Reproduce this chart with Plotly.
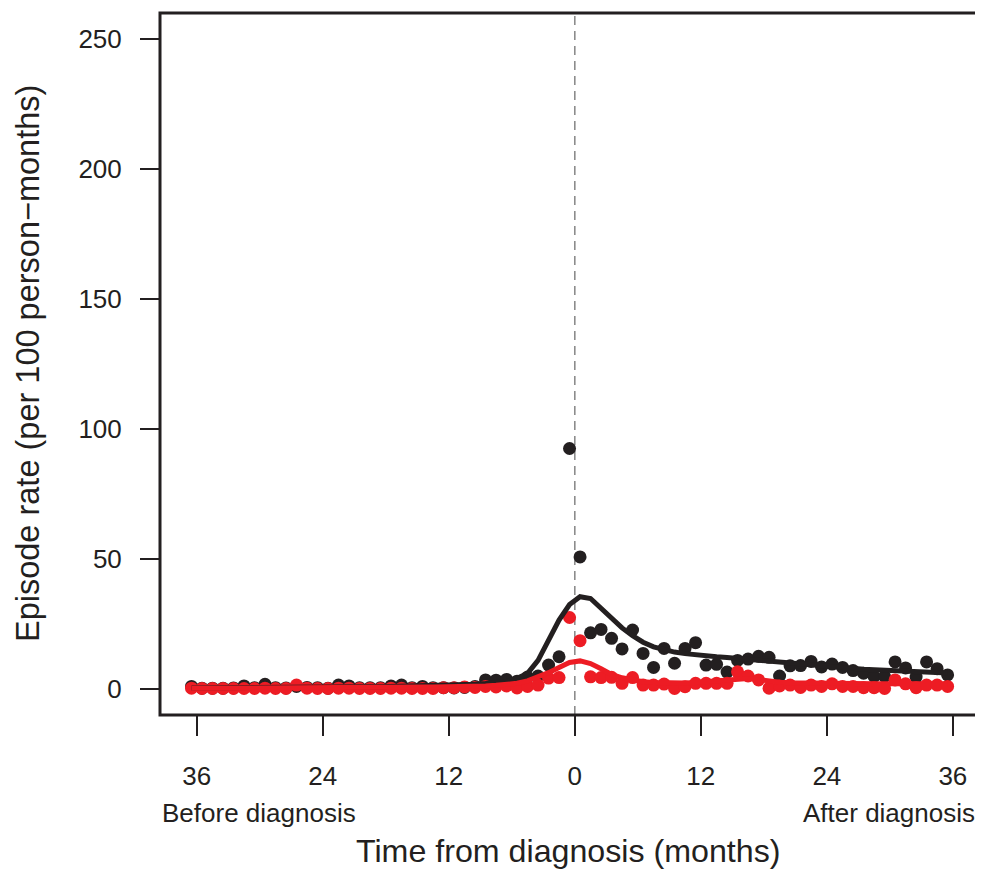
import plotly.graph_objects as go

# ---- data (months from diagnosis; points at mid-month) ----
months_before = [m + 0.5 for m in range(-37, 0)]   # -36.5 ... -0.5
months_after = [m + 0.5 for m in range(0, 36)]     # 0.5 ... 35.5

black_before = [1.0, 0.3, 0.3, 0.3, 0.4, 1.2, 0.5, 1.8, 0.5, 0.4,
                1.0, 0.6, 0.5, 0.3, 1.5, 1.2, 0.5, 0.5, 0.5, 1.2,
                1.5, 0.5, 1.0, 0.5, 0.5, 0.4, 0.6, 1.0, 3.5, 3.4,
                3.7, 3.0, 4.6, 5.0, 9.2, 12.4, 92.5]
black_after = [50.8, 21.6, 22.9, 19.5, 15.4, 22.7, 13.7, 8.3, 15.6, 9.9,
               15.6, 17.8, 9.2, 9.5, 6.5, 11.0, 11.5, 12.6, 12.2, 5.0,
               8.9, 9.0, 10.6, 8.5, 9.6, 8.3, 7.1, 6.1, 4.8, 4.8,
               10.4, 8.1, 4.6, 10.4, 7.8, 5.4]
red_before = [0.3, 0.2, 0.2, 0.2, 0.2, 0.2, 0.2, 0.3, 0.2, 0.2,
              1.5, 0.3, 0.2, 0.2, 0.3, 0.3, 0.2, 0.2, 0.2, 0.3,
              0.3, 0.2, 0.2, 0.2, 0.5, 0.5, 0.8, 0.6, 1.0, 0.8,
              1.2, 0.4, 1.0, 1.5, 4.2, 4.4, 27.5]
red_after = [18.6, 4.7, 4.4, 4.5, 2.2, 4.4, 1.5, 1.5, 1.9, 0.2,
             0.9, 2.2, 2.2, 2.2, 2.2, 6.6, 5.0, 3.5, 0.3, 1.2,
             1.5, 0.6, 1.5, 1.0, 2.0, 1.0, 1.0, 0.5, 0.5, 0.2,
             3.5, 2.0, 0.5, 1.5, 1.5, 1.0]

black_fit_before = [0.4, 0.4, 0.4, 0.45, 0.45, 0.5, 0.5, 0.5, 0.55, 0.55,
                    0.6, 0.6, 0.65, 0.7, 0.7, 0.75, 0.8, 0.85, 0.9, 0.95,
                    1.0, 1.05, 1.1, 1.2, 1.3, 1.4, 1.6, 1.8, 2.1, 2.5,
                    3.0, 4.1, 6.0, 11.0, 18.5, 26.5, 32.5]
black_fit_after = [35.5, 34.8, 31.0, 27.0, 23.5, 20.5, 18.0, 16.2, 15.0, 14.2,
                   13.6, 13.1, 12.7, 12.4, 12.1, 11.8, 11.5, 11.2, 10.9, 10.5,
                   10.1, 9.7, 9.3, 8.9, 8.5, 8.2, 7.9, 7.6, 7.4, 7.2,
                   7.0, 6.9, 6.8, 6.6, 6.4, 6.2]
red_fit_before = [0.3, 0.3, 0.3, 0.3, 0.3, 0.35, 0.35, 0.35, 0.4, 0.4,
                  0.4, 0.45, 0.45, 0.5, 0.5, 0.55, 0.55, 0.6, 0.6, 0.65,
                  0.7, 0.7, 0.75, 0.8, 0.8, 0.9, 1.0, 1.1, 1.2, 1.4,
                  1.7, 2.2, 3.1, 4.5, 6.3, 8.3, 10.2]
red_fit_after = [10.8, 9.8, 7.8, 5.6, 4.3, 3.4, 2.8, 2.5, 2.3, 2.2,
                 2.3, 2.5, 2.8, 3.2, 3.6, 4.0, 4.0, 3.6, 3.0, 2.6,
                 2.4, 2.3, 2.2, 2.1, 2.1, 2.0, 2.0, 2.0, 2.0, 2.0,
                 2.0, 2.0, 2.0, 2.0, 2.0, 2.0]

tick_vals = [-36, -24, -12, 0, 12, 24, 36]
tick_text = ["36", "24", "12", "0", "12", "24", "36"]
y_ticks = [0, 50, 100, 150, 200, 250]

assert len(black_before) == 37 and len(red_before) == 37
assert len(black_fit_before) == 37 and len(red_fit_before) == 37
assert len(black_after) == 36 and len(red_after) == 36
assert len(black_fit_after) == 36 and len(red_fit_after) == 36

BLACK = "#231f20"
RED = "#ed1c24"
FONT = "Liberation Sans, Arial, Helvetica, sans-serif"

months = months_before + months_after

fig = go.Figure()
fig.add_trace(go.Scatter(x=months, y=black_before + black_after, mode="markers",
                         marker=dict(color=BLACK, size=13, line=dict(width=0)),
                         showlegend=False))
fig.add_trace(go.Scatter(x=months, y=red_before + red_after, mode="markers",
                         marker=dict(color=RED, size=13, line=dict(width=0)),
                         showlegend=False))
fig.add_trace(go.Scatter(x=months, y=black_fit_before + black_fit_after, mode="lines",
                         line=dict(color=BLACK, width=5), showlegend=False))
fig.add_trace(go.Scatter(x=months, y=red_fit_before + red_fit_after, mode="lines",
                         line=dict(color=RED, width=5), showlegend=False))

# the page body has an 8px margin; figure is sized to fill the rest of the window
W, H = 975, 865
L, R, T, B = 152, 6, 5, 158
PH = H - T - B
PW = W - L - R

fig.update_layout(
    width=W, height=H,
    margin=dict(l=L, r=R, t=T, b=B),
    paper_bgcolor="white", plot_bgcolor="white",
    font=dict(family=FONT, color=BLACK, size=26),
    xaxis=dict(range=[-39.5, 38.3], tickvals=tick_vals, ticktext=tick_text,
               showgrid=False, zeroline=False, showline=False,
               ticks="outside", ticklen=20, tickwidth=1.5, tickcolor=BLACK,
               ticklabelstandoff=18,
               tickfont=dict(size=26, family=FONT, color=BLACK)),
    yaxis=dict(range=[-10, 260], tickvals=y_ticks,
               showgrid=False, zeroline=False, showline=False,
               ticks="outside", ticklen=19, tickwidth=1.5, tickcolor=BLACK,
               ticklabelstandoff=13,
               tickfont=dict(size=26, family=FONT, color=BLACK)),
    shapes=[
        dict(type="line", xref="x", yref="paper", x0=0, x1=0, y0=0, y1=1,
             line=dict(color="#8c8c8c", width=1.6, dash="9px,6px"), layer="below"),
        dict(type="rect", xref="paper", yref="paper", x0=0, x1=1, y0=0, y1=1,
             line=dict(color=BLACK, width=3)),
    ],
    annotations=[
        dict(text="Before diagnosis", xref="paper", yref="paper", x=0, y=(707 - 805) / PH,
             xanchor="left", yanchor="middle", showarrow=False,
             font=dict(size=26, family=FONT, color=BLACK)),
        dict(text="After diagnosis", xref="paper", yref="paper", x=1, y=(707 - 805) / PH,
             xanchor="right", yanchor="middle", showarrow=False,
             font=dict(size=26, family=FONT, color=BLACK)),
        dict(text="Time from diagnosis (months)", xref="paper", yref="paper",
             x=0.5, y=(707 - 843) / PH,
             xanchor="center", yanchor="middle", showarrow=False,
             font=dict(size=32.2, family=FONT, color=BLACK)),
        dict(text="Episode rate (per 100 person\u2212months)", xref="paper", yref="paper",
             x=(20 - L) / PW, y=0.5, textangle=-90,
             xanchor="center", yanchor="middle", showarrow=False,
             font=dict(size=32.5, family=FONT, color=BLACK)),
    ],
)

fig.write_html("out.html")
